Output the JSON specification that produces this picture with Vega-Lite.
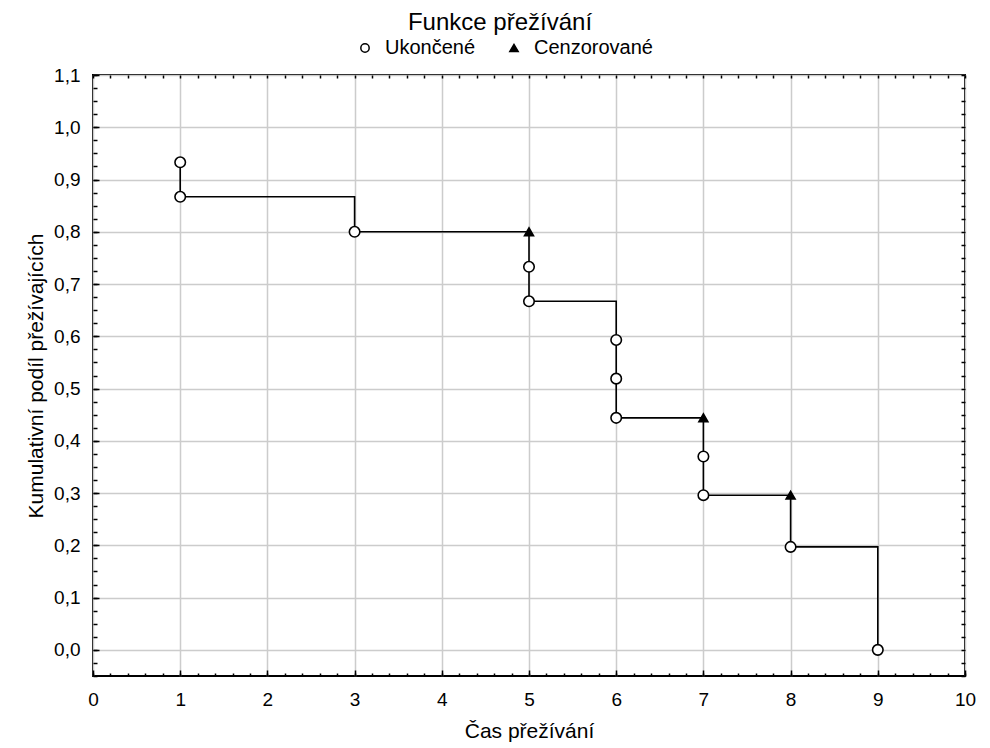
{
  "$schema": "https://vega.github.io/schema/vega-lite/v6.json",
  "width": 872,
  "height": 601,
  "autosize": {"type": "none"},
  "padding": {"left": 93, "top": 75, "right": 25, "bottom": 72},
  "background": "white",
  "config": {
    "font": "Liberation Sans",
    "view": {"stroke": "black", "strokeWidth": 2},
    "axis": {"labelColor": "black", "titleColor": "black", "titleFontWeight": "normal", "tickColor": "black", "domain": false}
  },
  "title": {"text": "Funkce přežívání", "fontSize": 24, "font": "Liberation Sans", "fontWeight": "normal", "color": "black", "anchor": "middle", "dx": -29, "offset": 3},
  "datasets": {
    "km": [
      {"i": 1, "t": 1, "s": 0.933, "typ": "Ukončené"},
      {"i": 2, "t": 1, "s": 0.867, "typ": "Ukončené"},
      {"i": 3, "t": 3, "s": 0.8, "typ": "Ukončené"},
      {"i": 4, "t": 5, "s": 0.8, "typ": "Cenzorované"},
      {"i": 5, "t": 5, "s": 0.733, "typ": "Ukončené"},
      {"i": 6, "t": 5, "s": 0.667, "typ": "Ukončené"},
      {"i": 7, "t": 6, "s": 0.593, "typ": "Ukončené"},
      {"i": 8, "t": 6, "s": 0.519, "typ": "Ukončené"},
      {"i": 9, "t": 6, "s": 0.444, "typ": "Ukončené"},
      {"i": 10, "t": 7, "s": 0.444, "typ": "Cenzorované"},
      {"i": 11, "t": 7, "s": 0.370, "typ": "Ukončené"},
      {"i": 12, "t": 7, "s": 0.296, "typ": "Ukončené"},
      {"i": 13, "t": 8, "s": 0.296, "typ": "Cenzorované"},
      {"i": 14, "t": 8, "s": 0.197, "typ": "Ukončené"},
      {"i": 15, "t": 9, "s": 0.0, "typ": "Ukončené"}
    ]
  },
  "data": {"name": "km"},
  "resolve": {"axis": {"x": "independent", "y": "independent"}},
  "layer": [
    {
      "mark": {"type": "line", "interpolate": "step-after", "color": "black", "strokeWidth": 1.6},
      "encoding": {
        "order": {"field": "i", "type": "quantitative"},
        "x": {
          "field": "t", "type": "quantitative",
          "scale": {"domain": [0, 10], "nice": false, "zero": false},
          "axis": {
            "orient": "bottom", "title": "Čas přežívání", "titleFontSize": 21, "titlePadding": 11,
            "values": [0, 1, 2, 3, 4, 5, 6, 7, 8, 9, 10],
            "labelFontSize": 19, "labelPadding": 20, "tickSize": -6, "tickWidth": 1.5,
            "grid": true, "gridColor": "#cccccc", "gridWidth": 1.5, "labelFlush": false
          }
        },
        "y": {
          "field": "s", "type": "quantitative",
          "scale": {"domain": [-0.05, 1.1], "nice": false, "zero": false},
          "axis": {
            "orient": "left", "title": "Kumulativní podíl přežívajících", "titleFontSize": 21, "titlePadding": 7,
            "values": [0, 0.1, 0.2, 0.3, 0.4, 0.5, 0.6, 0.7, 0.8, 0.9, 1.0, 1.1],
            "labelExpr": "replace(format(datum.value, '.1f'), '.', ',')",
            "labelFontSize": 19, "labelPadding": 19, "tickSize": -6, "tickWidth": 1.5,
            "grid": true, "gridColor": "#cccccc", "gridWidth": 1.5, "labelFlush": false
          }
        }
      }
    },
    {
      "transform": [{"filter": "datum.typ === 'Ukončené'"}],
      "mark": {"type": "point", "size": 110, "strokeWidth": 1.6, "opacity": 1},
      "encoding": {
        "x": {
          "field": "t", "type": "quantitative",
          "axis": {
            "orient": "bottom", "title": null, "labels": false, "grid": false, "tickSize": -3, "tickWidth": 1.5,
            "values": [0,0.2,0.4,0.6,0.8,1,1.2,1.4,1.6,1.8,2,2.2,2.4,2.6,2.8,3,3.2,3.4,3.6,3.8,4,4.2,4.4,4.6,4.8,5,5.2,5.4,5.6,5.8,6,6.2,6.4,6.6,6.8,7,7.2,7.4,7.6,7.8,8,8.2,8.4,8.6,8.8,9,9.2,9.4,9.6,9.8,10]
          }
        },
        "y": {
          "field": "s", "type": "quantitative",
          "axis": {
            "orient": "left", "title": null, "labels": false, "grid": false, "tickSize": -4, "tickWidth": 1.5,
            "values": [-0.05,-0.025,0,0.025,0.05,0.075,0.1,0.125,0.15,0.175,0.2,0.225,0.25,0.275,0.3,0.325,0.35,0.375,0.4,0.425,0.45,0.475,0.5,0.525,0.55,0.575,0.6,0.625,0.65,0.675,0.7,0.725,0.75,0.775,0.8,0.825,0.85,0.875,0.9,0.925,0.95,0.975,1,1.025,1.05,1.075,1.1]
          }
        },
        "shape": {
          "field": "typ", "type": "nominal",
          "scale": {"domain": ["Ukončené", "Cenzorované"], "range": ["circle", "triangle-up"]},
          "legend": {
            "orient": "none", "legendX": 262, "legendY": -37, "direction": "horizontal", "title": null,
            "labelFontSize": 20, "labelColor": "black", "symbolSize": 70, "symbolStrokeWidth": 1.5,
            "columnPadding": 28, "labelOffset": 10
          }
        },
        "fill": {
          "field": "typ", "type": "nominal",
          "scale": {"domain": ["Ukončené", "Cenzorované"], "range": ["white", "black"]}
        },
        "stroke": {
          "field": "typ", "type": "nominal",
          "scale": {"domain": ["Ukončené", "Cenzorované"], "range": ["black", "black"]}
        }
      }
    },
    {
      "transform": [{"filter": "datum.typ === 'Cenzorované'"}],
      "mark": {"type": "point", "size": 80, "strokeWidth": 1.6, "opacity": 1},
      "encoding": {
        "x": {
          "field": "t", "type": "quantitative",
          "axis": {
            "orient": "top", "title": null, "labels": false, "grid": false, "tickSize": -3, "tickWidth": 1.5,
            "values": [0,0.2,0.4,0.6,0.8,1,1.2,1.4,1.6,1.8,2,2.2,2.4,2.6,2.8,3,3.2,3.4,3.6,3.8,4,4.2,4.4,4.6,4.8,5,5.2,5.4,5.6,5.8,6,6.2,6.4,6.6,6.8,7,7.2,7.4,7.6,7.8,8,8.2,8.4,8.6,8.8,9,9.2,9.4,9.6,9.8,10]
          }
        },
        "y": {
          "field": "s", "type": "quantitative",
          "axis": {
            "orient": "right", "title": null, "labels": false, "grid": false, "tickSize": -4, "tickWidth": 1.5,
            "values": [-0.05,-0.025,0,0.025,0.05,0.075,0.1,0.125,0.15,0.175,0.2,0.225,0.25,0.275,0.3,0.325,0.35,0.375,0.4,0.425,0.45,0.475,0.5,0.525,0.55,0.575,0.6,0.625,0.65,0.675,0.7,0.725,0.75,0.775,0.8,0.825,0.85,0.875,0.9,0.925,0.95,0.975,1,1.025,1.05,1.075,1.1]
          }
        },
        "shape": {
          "field": "typ", "type": "nominal",
          "scale": {"domain": ["Ukončené", "Cenzorované"], "range": ["circle", "triangle-up"]}
        },
        "fill": {
          "field": "typ", "type": "nominal",
          "scale": {"domain": ["Ukončené", "Cenzorované"], "range": ["white", "black"]}
        },
        "stroke": {
          "field": "typ", "type": "nominal",
          "scale": {"domain": ["Ukončené", "Cenzorované"], "range": ["black", "black"]}
        }
      }
    }
  ]
}
